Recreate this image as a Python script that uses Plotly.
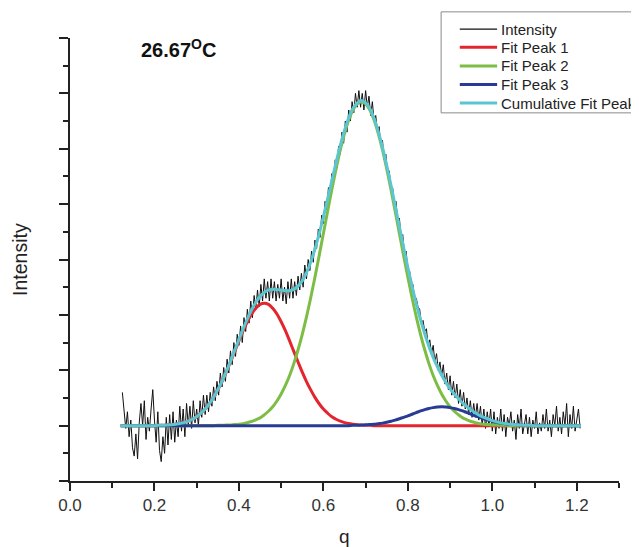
"""
plot.py

Peak fit of a scattering curve at 26.67 C (Plotly).
"""

import numpy as np
import plotly.graph_objects as go

# =============================================================================
# Data
# =============================================================================

# measured curve, q from 0.124 to 1.208 in steps of 0.004
q_raw = np.round(np.linspace(0.124, 1.208, 272), 3)

intensity = [
    3.2, 2.4, 1.9, 2.5, 1.6, 2.2, 1.2, 0.9, 1.7, 0.8,
    2.1, 2.8, 2.0, 2.9, 1.5, 2.3, 1.8, 2.6, 3.3, 2.2,
    1.4, 2.5, 1.1, 0.7, 1.6, 1.0, 2.3, 1.3, 2.4, 1.5,
    2.5, 1.4, 2.2, 1.6, 2.7, 1.8, 2.6, 1.6, 2.8, 2.0,
    2.7, 1.9, 2.9, 2.1, 2.6, 2.0, 2.9, 2.3, 3.1, 2.4,
    3.1, 2.5, 3.2, 2.7, 3.4, 2.9, 3.6, 3.1, 3.9, 3.4,
    4.1, 3.6, 4.4, 3.9, 4.7, 4.2, 5.0, 4.5, 5.3, 4.9,
    5.6, 5.0, 5.9, 5.4, 6.2, 5.7, 6.5, 5.9, 6.7, 6.2,
    6.9, 6.3, 7.1, 6.5, 7.3, 6.6, 7.2, 6.5, 7.3, 6.6,
    7.2, 6.5, 7.1, 6.6, 7.3, 6.5, 7.0, 6.4, 7.2, 6.6,
    7.3, 6.6, 7.2, 6.7, 7.4, 6.9, 7.5, 7.0, 7.8, 7.3,
    8.0, 7.6, 8.3, 7.9, 8.7, 8.4, 9.1, 8.8, 9.6, 9.3,
    10.1, 9.8, 10.6, 10.3, 11.1, 10.8, 11.6, 11.3, 12.1, 11.8,
    12.6, 12.2, 13.0, 12.6, 13.4, 13.0, 13.7, 13.3, 14.0, 13.5,
    14.1, 13.5, 14.0, 13.4, 14.1, 13.5, 13.9, 13.2, 13.7, 13.0,
    13.2, 12.6, 12.8, 12.1, 12.3, 11.6, 11.8, 11.1, 11.2, 10.6,
    10.6, 10.0, 10.1, 9.4, 9.5, 8.8, 8.9, 8.2, 8.3, 7.6,
    7.6, 7.2, 7.1, 6.6, 6.6, 6.3, 6.2, 5.7, 5.8, 5.4,
    5.5, 4.9, 5.1, 4.6, 4.9, 4.3, 4.6, 4.0, 4.3, 3.8,
    4.2, 3.5, 3.9, 3.3, 3.8, 3.1, 3.6, 3.0, 3.5, 2.8,
    3.3, 2.7, 3.2, 2.6, 3.0, 2.4, 2.9, 2.3, 2.8, 2.3,
    2.8, 2.2, 2.7, 2.0, 2.6, 1.9, 2.5, 2.0, 2.6, 1.8,
    2.5, 1.7, 2.3, 1.9, 2.6, 1.8, 2.4, 1.6, 2.3, 2.0,
    2.5, 1.8, 2.2, 1.5, 2.4, 1.9, 2.6, 1.7, 2.1, 2.4,
    1.7, 2.3, 1.6, 2.2, 1.9, 2.5, 1.7, 2.1, 1.8, 2.4,
    1.9, 2.6, 1.8, 2.2, 1.6, 2.4, 2.0, 2.7, 1.8, 2.3,
    1.7, 2.5, 2.0, 2.8, 1.6, 2.4, 1.9, 2.7, 1.8, 2.3,
    2.6, 1.9,
]

# fitted curves, q from 0.12 to 1.21 in steps of 0.01
q_fit = np.round(np.linspace(0.12, 1.21, 110), 2)

fit_peak_1 = [
    2.00, 2.00, 2.00, 2.00, 2.00, 2.00, 2.00, 2.00, 2.00, 2.01,
    2.01, 2.02, 2.03, 2.05, 2.08, 2.11, 2.16, 2.23, 2.32, 2.45,
    2.60, 2.79, 3.02, 3.29, 3.59, 3.93, 4.30, 4.68, 5.06, 5.43,
    5.75, 6.03, 6.24, 6.38, 6.42, 6.38, 6.24, 6.03, 5.75, 5.43,
    5.06, 4.68, 4.30, 3.93, 3.59, 3.29, 3.02, 2.79, 2.60, 2.45,
    2.32, 2.23, 2.16, 2.11, 2.08, 2.05, 2.03, 2.02, 2.01, 2.01,
    2.00, 2.00, 2.00, 2.00, 2.00, 2.00, 2.00, 2.00, 2.00, 2.00,
    2.00, 2.00, 2.00, 2.00, 2.00, 2.00, 2.00, 2.00, 2.00, 2.00,
    2.00, 2.00, 2.00, 2.00, 2.00, 2.00, 2.00, 2.00, 2.00, 2.00,
    2.00, 2.00, 2.00, 2.00, 2.00, 2.00, 2.00, 2.00, 2.00, 2.00,
    2.00, 2.00, 2.00, 2.00, 2.00, 2.00, 2.00, 2.00, 2.00, 2.00,
]

fit_peak_2 = [
    2.00, 2.00, 2.00, 2.00, 2.00, 2.00, 2.00, 2.00, 2.00, 2.00,
    2.00, 2.00, 2.00, 2.00, 2.00, 2.00, 2.00, 2.00, 2.00, 2.00,
    2.00, 2.00, 2.00, 2.01, 2.01, 2.02, 2.02, 2.04, 2.05, 2.07,
    2.11, 2.15, 2.21, 2.28, 2.39, 2.52, 2.68, 2.89, 3.14, 3.45,
    3.81, 4.24, 4.74, 5.30, 5.93, 6.62, 7.36, 8.14, 8.94, 9.74,
    10.53, 11.27, 11.96, 12.55, 13.04, 13.40, 13.62, 13.70, 13.62, 13.40,
    13.04, 12.55, 11.96, 11.27, 10.53, 9.74, 8.94, 8.14, 7.36, 6.62,
    5.93, 5.30, 4.74, 4.24, 3.81, 3.45, 3.14, 2.89, 2.68, 2.52,
    2.39, 2.28, 2.21, 2.15, 2.11, 2.07, 2.05, 2.04, 2.02, 2.02,
    2.01, 2.01, 2.00, 2.00, 2.00, 2.00, 2.00, 2.00, 2.00, 2.00,
    2.00, 2.00, 2.00, 2.00, 2.00, 2.00, 2.00, 2.00, 2.00, 2.00,
]

fit_peak_3 = [
    2.00, 2.00, 2.00, 2.00, 2.00, 2.00, 2.00, 2.00, 2.00, 2.00,
    2.00, 2.00, 2.00, 2.00, 2.00, 2.00, 2.00, 2.00, 2.00, 2.00,
    2.00, 2.00, 2.00, 2.00, 2.00, 2.00, 2.00, 2.00, 2.00, 2.00,
    2.00, 2.00, 2.00, 2.00, 2.00, 2.00, 2.00, 2.00, 2.00, 2.00,
    2.00, 2.00, 2.00, 2.00, 2.00, 2.00, 2.00, 2.00, 2.00, 2.00,
    2.00, 2.00, 2.00, 2.00, 2.00, 2.01, 2.01, 2.02, 2.03, 2.04,
    2.05, 2.07, 2.09, 2.12, 2.16, 2.20, 2.25, 2.30, 2.35, 2.41,
    2.47, 2.53, 2.58, 2.62, 2.65, 2.67, 2.68, 2.67, 2.65, 2.62,
    2.58, 2.53, 2.47, 2.41, 2.35, 2.30, 2.25, 2.20, 2.16, 2.12,
    2.09, 2.07, 2.05, 2.04, 2.03, 2.02, 2.01, 2.01, 2.00, 2.00,
    2.00, 2.00, 2.00, 2.00, 2.00, 2.00, 2.00, 2.00, 2.00, 2.00,
]

cumulative_fit = [
    2.00, 2.00, 2.00, 2.00, 2.00, 2.00, 2.00, 2.00, 2.00, 2.01,
    2.01, 2.02, 2.03, 2.05, 2.08, 2.11, 2.16, 2.23, 2.32, 2.45,
    2.60, 2.79, 3.02, 3.30, 3.60, 3.95, 4.32, 4.72, 5.11, 5.50,
    5.86, 6.18, 6.45, 6.66, 6.81, 6.90, 6.92, 6.92, 6.89, 6.88,
    6.87, 6.92, 7.04, 7.23, 7.52, 7.91, 8.38, 8.93, 9.54, 10.19,
    10.85, 11.50, 12.12, 12.66, 13.12, 13.46, 13.66, 13.74, 13.66, 13.45,
    13.09, 12.62, 12.05, 11.39, 10.69, 9.94, 9.19, 8.44, 7.71, 7.03,
    6.40, 5.83, 5.32, 4.86, 4.46, 4.12, 3.82, 3.56, 3.33, 3.14,
    2.97, 2.81, 2.68, 2.56, 2.46, 2.37, 2.30, 2.24, 2.18, 2.14,
    2.10, 2.08, 2.05, 2.04, 2.03, 2.02, 2.01, 2.01, 2.00, 2.00,
    2.00, 2.00, 2.00, 2.00, 2.00, 2.00, 2.00, 2.00, 2.00, 2.00,
]

FONT = "Arial, Liberation Sans, sans-serif"
AXIS_COLOR = "#222222"

# name, colour, line width
SERIES_STYLE = [
    ("Intensity", "#111111", 1),
    ("Fit Peak 1", "#e3262d", 3),
    ("Fit Peak 2", "#7dbd45", 3),
    ("Fit Peak 3", "#2a3b93", 3),
    ("Cumulative Fit Peak", "#5cc6d0", 3),
]

# =============================================================================
# Legend box (drawn by hand, Origin style)
# =============================================================================

def legend_items():

    shapes = [
        dict(type="rect", xref="paper", yref="paper",
             x0=0.676, x1=1.034, y0=0.831, y1=1.059,
             line=dict(color="#8a8a8a", width=1), fillcolor="white",
             layer="above"),
    ]
    annotations = []

    y_rows = [1.020, 0.979, 0.937, 0.895, 0.853]

    for (name, color, width), yy in zip(SERIES_STYLE, y_rows):
        shapes.append(dict(
            type="line", xref="paper", yref="paper",
            x0=0.710, x1=0.778, y0=yy, y1=yy,
            line=dict(color=color, width=width if width > 1 else 1.2),
            layer="above",
        ))
        annotations.append(dict(
            text=name, xref="paper", yref="paper",
            x=0.781, y=yy, xanchor="left", yanchor="middle",
            showarrow=False,
            font=dict(family=FONT, size=15, color="#222222"),
        ))

    return shapes, annotations


# =============================================================================
# Figure
# =============================================================================

def peak_fit_chart():

    fig = go.Figure()

    series = [
        (q_raw, intensity),
        (q_fit, fit_peak_1),
        (q_fit, fit_peak_2),
        (q_fit, fit_peak_3),
        (q_fit, cumulative_fit),
    ]

    for (x, y), (name, color, width) in zip(series, SERIES_STYLE):
        fig.add_trace(go.Scatter(
            x=x, y=y, mode="lines", name=name,
            line=dict(color=color, width=width,
                      shape="linear" if width == 1 else "spline"),
        ))

    axis_common = dict(
        showgrid=False,
        zeroline=False,
        showline=True,
        linecolor=AXIS_COLOR,
        linewidth=2,
        ticks="outside",
        tickcolor=AXIS_COLOR,
        tickwidth=1.5,
        mirror=False,
    )

    fig.update_xaxes(
        **axis_common,
        range=[0, 1.3],
        tick0=0,
        dtick=0.2,
        tickformat=".1f",
        ticklen=8,
        minor=dict(dtick=0.1, ticks="outside", ticklen=5,
                   tickcolor=AXIS_COLOR, tickwidth=1.5),
        tickfont=dict(family=FONT, size=17, color="#333333"),
    )

    fig.update_yaxes(
        **axis_common,
        range=[0, 16],
        tick0=0,
        dtick=2,
        ticklen=9,
        showticklabels=False,
        minor=dict(dtick=1, ticks="outside", ticklen=5,
                   tickcolor=AXIS_COLOR, tickwidth=1.5),
    )

    legend_shapes, legend_text = legend_items()

    # the page body adds an 8 px offset, so margins are shifted to match
    fig.update_layout(
        width=639,
        height=547,
        margin=dict(l=62, r=28, t=30, b=74, autoexpand=False),
        paper_bgcolor="white",
        plot_bgcolor="white",
        showlegend=False,
        font=dict(family=FONT, color="#222222"),
        annotations=[
            dict(text="<b>26.67<sup>O</sup>C</b>", xref="paper", yref="paper",
                 x=0.198, y=0.976, xanchor="center", yanchor="middle",
                 showarrow=False,
                 font=dict(family=FONT, size=20, color="#111111")),
            dict(text="Intensity", xref="paper", yref="paper",
                 x=-0.091, y=0.499, xanchor="center", yanchor="middle",
                 textangle=-90, showarrow=False,
                 font=dict(family=FONT, size=19.5, color="#222222")),
            dict(text="q", xref="paper", yref="paper",
                 x=0.50, y=-0.126, xanchor="center", yanchor="middle",
                 showarrow=False,
                 font=dict(family=FONT, size=19, color="#222222")),
        ] + legend_text,
        shapes=[
            # x axis line runs a little past the y axis, as in Origin
            dict(type="line", xref="paper", yref="paper",
                 x0=-0.018, x1=0, y0=0, y1=0,
                 line=dict(color=AXIS_COLOR, width=2)),
        ] + legend_shapes,
    )

    return fig


fig = peak_fit_chart()
fig.write_html("out.html")
